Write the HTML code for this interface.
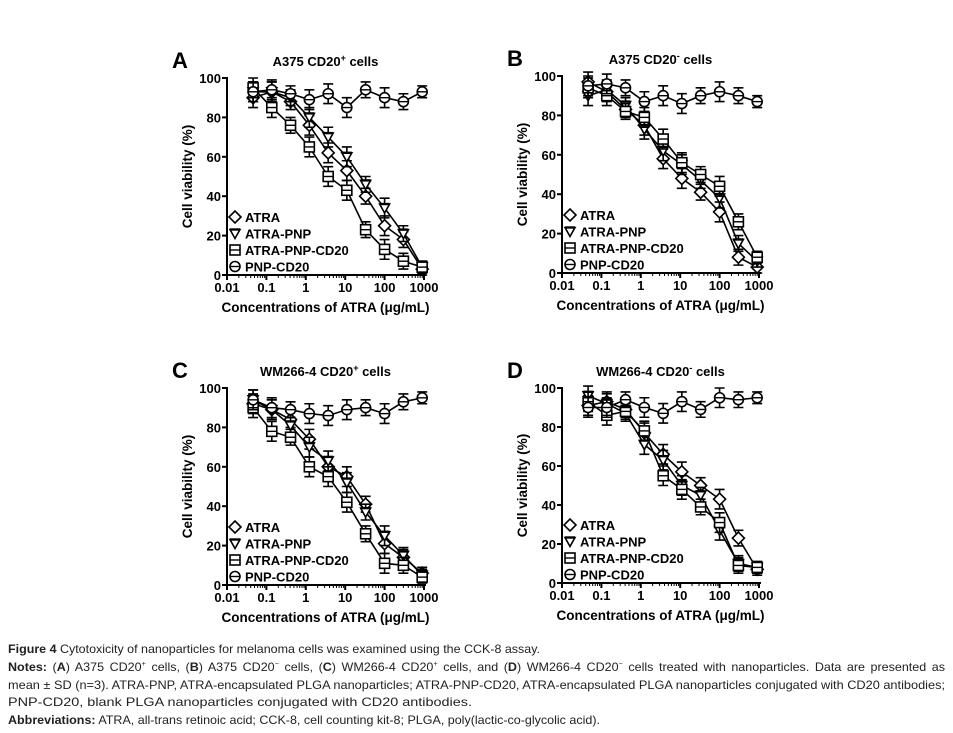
<!DOCTYPE html>
<html><head><meta charset="utf-8"><style>
body{margin:0;background:#fff;width:953px;height:733px;overflow:hidden;font-family:"Liberation Sans",sans-serif}
svg text{font-family:"Liberation Sans",sans-serif}
.cap{position:absolute;left:8px;font-size:12px;color:#222;white-space:nowrap;transform-origin:0 0;display:inline-block}
</style></head><body>
<svg id="fig" width="953" height="640" style="position:absolute;left:0;top:0"></svg>
<div class="cap" data-tw="532" style="top:642px"><b>Figure 4</b> Cytotoxicity of nanoparticles for melanoma cells was examined using the CCK-8 assay.</div>
<div class="cap" data-tw="937" style="top:660px;word-spacing:2px"><b>Notes:</b> (<b>A</b>) A375 CD20<sup style="font-size:7px">+</sup> cells, (<b>B</b>) A375 CD20<sup style="font-size:7px">−</sup> cells, (<b>C</b>) WM266-4 CD20<sup style="font-size:7px">+</sup> cells, and (<b>D</b>) WM266-4 CD20<sup style="font-size:7px">−</sup> cells treated with nanoparticles. Data are presented as</div>
<div class="cap" data-tw="937" style="top:678px">mean ± SD (n=3). ATRA-PNP, ATRA-encapsulated PLGA nanoparticles; ATRA-PNP-CD20, ATRA-encapsulated PLGA nanoparticles conjugated with CD20 antibodies;</div>
<div class="cap" data-tw="464" style="top:695px">PNP-CD20, blank PLGA nanoparticles conjugated with CD20 antibodies.</div>
<div class="cap" data-tw="592" style="top:713px"><b>Abbreviations:</b> ATRA, all-trans retinoic acid; CCK-8, cell counting kit-8; PLGA, poly(lactic-co-glycolic acid).</div>
<script>
const concentrations=[0.046,0.137,0.41,1.23,3.7,11,33,100,300,900];
const seriesNames=["ATRA","ATRA-PNP","ATRA-PNP-CD20","PNP-CD20"];
const xTicks=[0.01,0.1,1,10,100,1000];
const xTickLabels=["0.01","0.1","1","10","100","1000"];
const yTicks=[0,20,40,60,80,100];
const aAtra=[90,93,88,76,62,53,40,25,18,3];
const aPnp=[93,93,90,80,70,60,46,34,21,4];
const aCd20=[95,85,76,65,50,43,23,13,7,4];
const aBlank=[93,94,92,89,92,85,94,90,88,93];
const bAtra=[97,92,83,75,58,48,41,31,8,3];
const bPnp=[90,93,85,73,62,55,47,38,15,6];
const bCd20=[94,90,82,79,68,56,50,44,26,8];
const bBlank=[95,96,94,87,90,86,90,92,90,87];
const cAtra=[92,89,84,74,60,55,41,21,14,6];
const cPnp=[94,89,81,70,63,52,37,25,15,5];
const cCd20=[90,78,75,60,55,42,26,11,10,4];
const cBlank=[94,90,89,87,86,89,90,87,93,95];
const dAtra=[91,93,89,77,66,57,50,43,23,7];
const dPnp=[96,92,87,71,63,50,45,27,10,8];
const dCd20=[93,86,88,78,55,48,39,31,9,8];
const dBlank=[90,90,94,90,87,93,89,95,94,95];
const errBars=[5,5,4,5,5,5,4,5,4,3];

const NS="http://www.w3.org/2000/svg";
const svg=document.getElementById('fig');
function mk(tag,attrs,parent,txt){const e=document.createElementNS(NS,tag);for(const k in attrs)e.setAttribute(k,attrs[k]);if(txt!==undefined)e.textContent=txt;(parent||svg).appendChild(e);return e;}
function marker(g,type,cx,cy){
  const s=5;let e;
  if(type===0)e=mk('polygon',{points:`${cx},${cy-s-1} ${cx+s+1},${cy} ${cx},${cy+s+1} ${cx-s-1},${cy}`,fill:'#fff',stroke:'#000','stroke-width':1.6},g);
  else if(type===1){e=mk('polygon',{points:`${cx-s},${cy-s+1} ${cx+s},${cy-s+1} ${cx},${cy+s}`,fill:'#fff',stroke:'#000','stroke-width':1.6},g);mk('line',{x1:cx-s,y1:cy-s+1,x2:cx+s,y2:cy-s+1,stroke:'#000','stroke-width':2.4},g);}
  else if(type===2){e=mk('rect',{x:cx-s,y:cy-s,width:2*s,height:2*s,fill:'#fff',stroke:'#000','stroke-width':1.6},g);mk('line',{x1:cx-s,y1:cy,x2:cx+s,y2:cy,stroke:'#000','stroke-width':1.4},g);}
  else {e=mk('circle',{cx:cx,cy:cy,r:s,fill:'#fff',stroke:'#000','stroke-width':1.6},g);mk('line',{x1:cx-s,y1:cy,x2:cx+s,y2:cy,stroke:'#000','stroke-width':1.4},g);}
  return e;
}
function panel(id,letter,title,sup,x0,x1,y0,y100,data){
  const g=mk('g',{});
  
  
  const xs=v=>x0+(Math.log10(v)+2)/5*(x1-x0);
  const ys=v=>y0+(y100-y0)*v/100;
  const L=mk('text',{x:x0-55,y:y100-10,'font-size':22,'font-weight':'bold'},g,letter);
  
  
  const t=mk('text',{x:(x0+x1)/2,y:y100-12,'font-size':13,'font-weight':'bold','text-anchor':'middle'},g);
  
  
  mk('tspan',{},t,title);mk('tspan',{dy:-5,'font-size':9},t,sup);mk('tspan',{dy:5},t,' cells');
  mk('line',{x1:x0,y1:y0,x2:x1+2,y2:y0,stroke:'#000','stroke-width':2},g);
  mk('line',{x1:x0,y1:y0,x2:x0,y2:y100-1,stroke:'#000','stroke-width':2},g);
  yTicks.forEach(v=>{mk('line',{x1:x0-5,y1:ys(v),x2:x0,y2:ys(v),stroke:'#000','stroke-width':2},g);
    const tl=mk('text',{x:x0-6,y:ys(v)+5,'font-size':13,'font-weight':'bold','text-anchor':'end'},g,String(v));
    });
  xTicks.forEach((v,i)=>{mk('line',{x1:xs(v),y1:y0,x2:xs(v),y2:y0+5,stroke:'#000','stroke-width':2},g);
    if(i<xTicks.length-1)for(let m=2;m<10;m++)mk('line',{x1:xs(v*m),y1:y0,x2:xs(v*m),y2:y0+3,stroke:'#000','stroke-width':1},g);
    const tl=mk('text',{x:xs(v),y:y0+17,'font-size':13,'font-weight':'bold','text-anchor':'middle'},g,xTickLabels[i]);
    });
  const xl=mk('text',{x:(x0+x1)/2,y:y0+37,'font-size':13.5,'font-weight':'bold','text-anchor':'middle'},g,'Concentrations of ATRA (μg/mL)');
  
  const yl=mk('text',{x:0,y:0,'font-size':13.5,'font-weight':'bold','text-anchor':'middle',transform:`translate(${x0-35},${(y0+y100)/2}) rotate(-90)`},g,'Cell viability (%)');
  
  data.forEach((vals,si)=>{
    const sg=mk('g',{},g);
    
    
    mk('polyline',{points:vals.map((v,i)=>xs(concentrations[i])+','+ys(v)).join(' '),fill:'none',stroke:'#000','stroke-width':1.6},sg);
    vals.forEach((v,i)=>{const cx=xs(concentrations[i]);const e=errBars[i];
      mk('path',{d:`M${cx},${ys(v+e)}V${ys(v-e)}M${cx-5},${ys(v+e)}H${cx+5}M${cx-5},${ys(v-e)}H${cx+5}`,stroke:'#000','stroke-width':1.6,fill:'none'},sg);});
    vals.forEach((v,i)=>{const m=marker(sg,si,xs(concentrations[i]),ys(v));
      });
  });
  seriesNames.forEach((n,i)=>{const ly=y0-58+i*16.5;
    const lg=mk('g',{},g);
    
    marker(lg,i,x0+8,ly);
    mk('text',{x:x0+18,y:ly+5,'font-size':13,'font-weight':'bold'},lg,n);});
}
panel('a','A','A375 CD20','+',227,424,275,78,[aAtra,aPnp,aCd20,aBlank]);
panel('b','B','A375 CD20','-',562,759,273,76,[bAtra,bPnp,bCd20,bBlank]);
panel('c','C','WM266-4 CD20','+',227,424,585,388,[cAtra,cPnp,cCd20,cBlank]);
panel('d','D','WM266-4 CD20','-',562,759,583,388,[dAtra,dPnp,dCd20,dBlank]);
document.querySelectorAll('.cap').forEach(el=>{const w=el.getBoundingClientRect().width;const tw=+el.getAttribute('data-tw');el.style.transform='scaleX('+(tw/w)+')';});
</script>
</body></html>
